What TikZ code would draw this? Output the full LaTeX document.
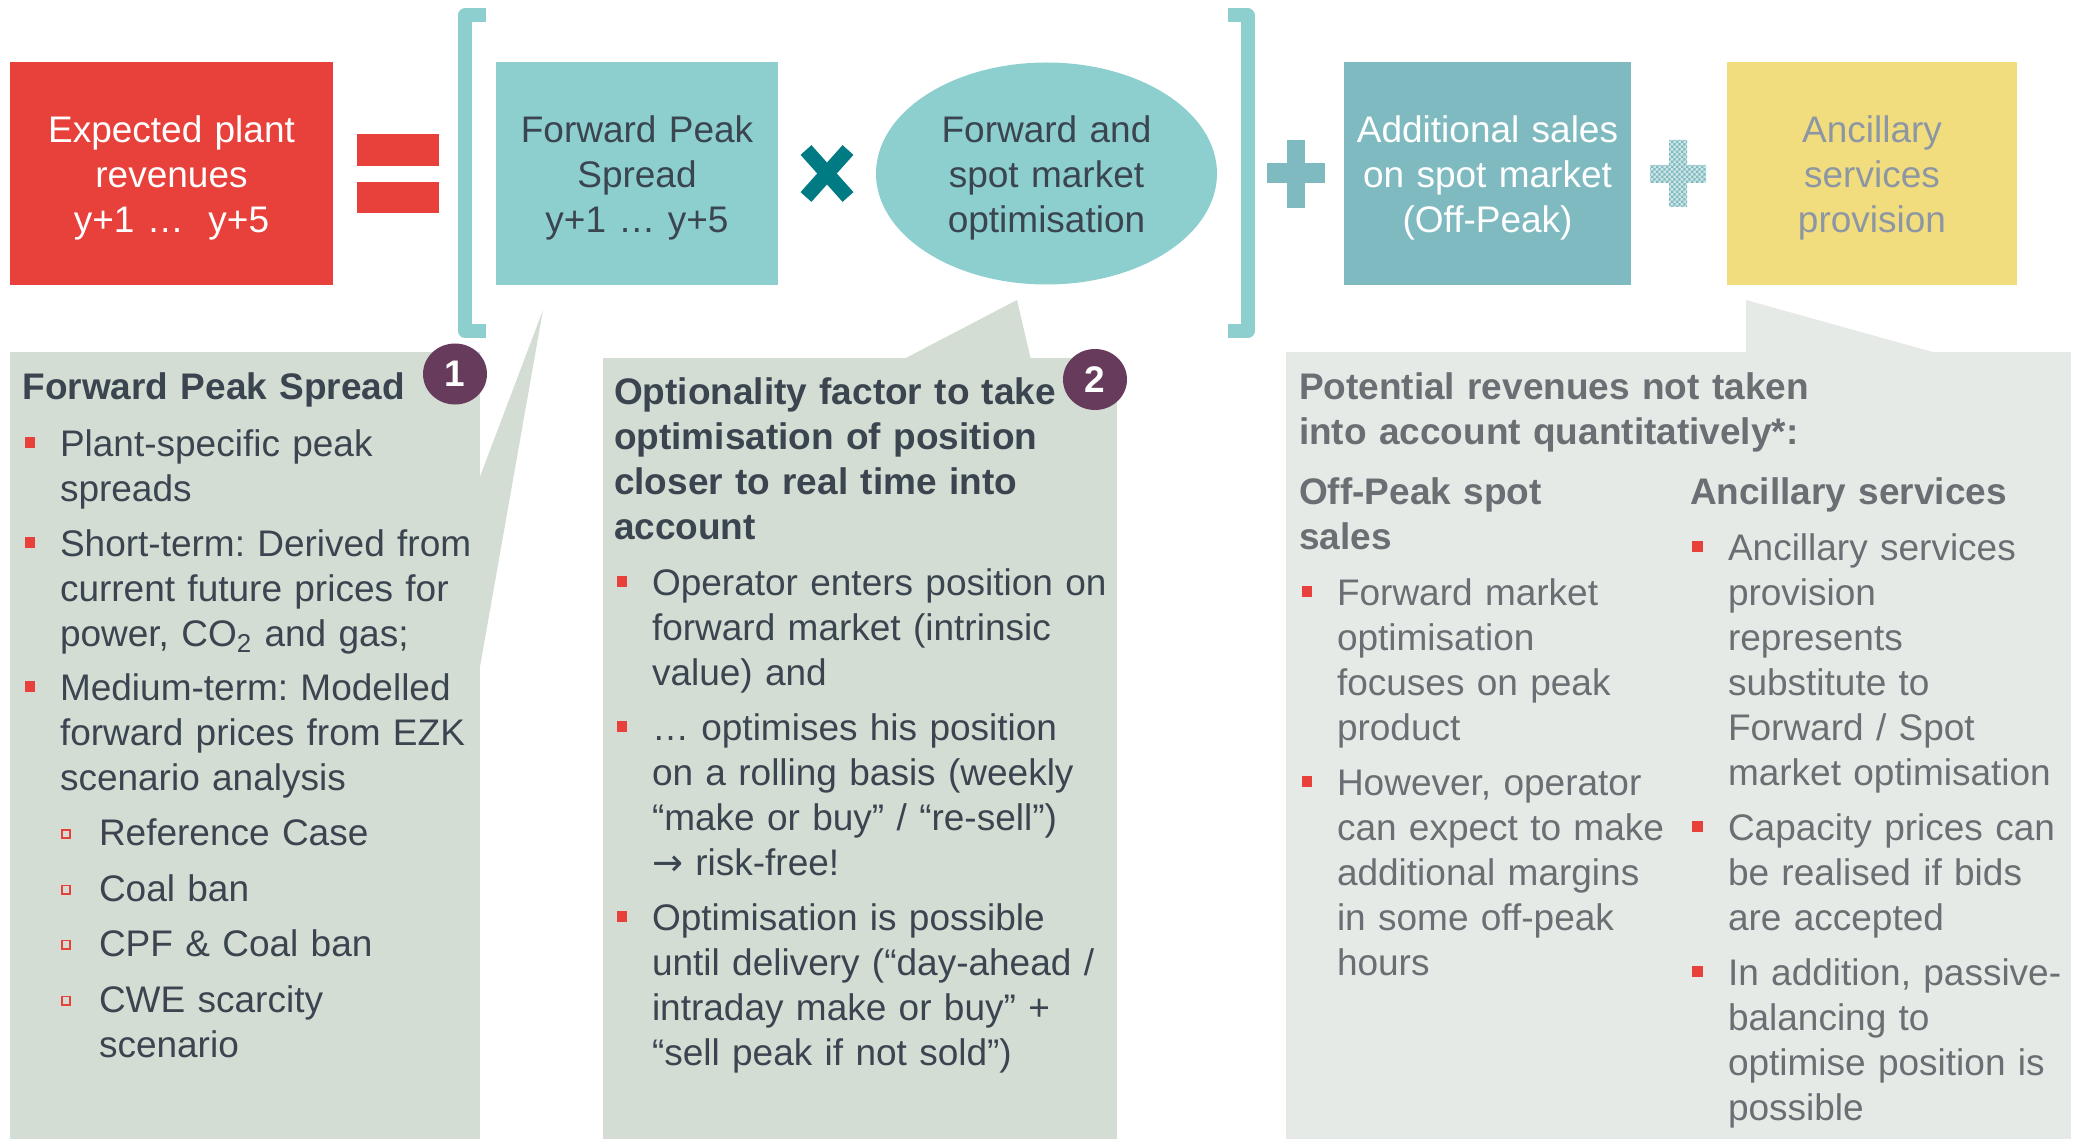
\documentclass[tikz,border=0pt]{standalone}
\usepackage{fontspec}
\setmainfont{Liberation Sans}
\newfontfamily\arrowfont{DejaVu Sans}
\usetikzlibrary{shapes.geometric,patterns}

\definecolor{revred}{HTML}{E8403A}
\definecolor{tealA}{HTML}{8DCFCF}
\definecolor{tealB}{HTML}{7FBAC0}
\definecolor{tealLt}{HTML}{CDE5E7}
\definecolor{tealDk}{HTML}{007B83}
\definecolor{sand}{HTML}{F2DD7E}
\definecolor{slate}{HTML}{3B4550}
\definecolor{greyT}{HTML}{6B6E72}
\definecolor{greyB}{HTML}{8D97A3}
\definecolor{sage}{HTML}{D3DDD4}
\definecolor{mist}{HTML}{E6EAE6}
\definecolor{plum}{HTML}{673B5B}

% fine checker used for the lighter plus sign
\pgfdeclarepatternformonly{finechecker}{\pgfpointorigin}{\pgfqpoint{2.4pt}{2.4pt}}{\pgfqpoint{2.4pt}{2.4pt}}{%
  \pgfpathrectangle{\pgfpointorigin}{\pgfqpoint{1.25pt}{1.25pt}}%
  \pgfpathrectangle{\pgfqpoint{1.2pt}{1.2pt}}{\pgfqpoint{1.25pt}{1.25pt}}%
  \pgfusepath{fill}}

\frenchspacing
\begin{document}
\begin{tikzpicture}[x=0.5pt,y=-0.5pt,
  every node/.style={inner sep=0pt, outer sep=0pt},
  lbl/.style={font=\fontsize{18.5pt}{22.5pt}\selectfont, anchor=base, align=center, text width=160pt},
  body/.style={font=\fontsize{18.5pt}{22.5pt}\selectfont, anchor=base west, align=left, text width=320pt},
  head/.style={body, font=\fontsize{18.5pt}{22.5pt}\selectfont\bfseries},
  bul/.style={rectangle, fill=revred, minimum size=5.4pt},
  subbul/.style={rectangle, draw=revred, line width=0.8pt, minimum size=4.2pt},
  bubble/.style={ellipse, fill=plum, text=white, font=\fontsize{18.5pt}{22.5pt}\selectfont\bfseries, minimum width=32pt, minimum height=30.5pt},
  tile/.style={rectangle, minimum height=111.5pt},
  bracket/.style={draw=tealA, line width=7pt, line join=round},
]
\useasboundingbox (0,0) rectangle (2078,1139);

% ---------- top row: the revenue equation ----------
\node[tile, fill=revred, minimum width=161.5pt] (rev) at (171.5,173.5) {};
\fill[revred] (357,134) rectangle (439,166);
\fill[revred] (357,182) rectangle (439,213);

\draw[bracket] (486,15.5) -- (465,15.5) -- (465,331) -- (486,331);
\node[tile, fill=tealA, minimum width=141pt] (fps) at (637,173.5) {};

% multiplication sign
\draw[tealDk, line width=7.3pt] (806,150) -- (848,197);
\draw[tealDk, line width=7.3pt] (848,150) -- (806,197);

\node[ellipse, fill=tealA, minimum width=170.5pt, minimum height=111pt] (opt) at (1046.5,173.5) {};
\draw[bracket] (1228,15.5) -- (1247.5,15.5) -- (1247.5,331) -- (1228,331);

% plus signs
\fill[tealB] (1287,140) rectangle (1305,208);
\fill[tealB] (1267,163) rectangle (1325,183);
\node[tile, fill=tealB, minimum width=143.5pt] (add) at (1487.5,173.5) {};

\fill[tealLt] (1669,140) rectangle (1687,207) (1650,165) rectangle (1706,183);
\fill[pattern=finechecker, pattern color=tealB] (1669,140) rectangle (1687,207) (1650,165) rectangle (1706,183);
\node[tile, fill=sand, minimum width=145pt] (anc) at (1872,173.5) {};

\node[lbl, text=white] (revT) at (171.5,143) {Expected plant\\revenues\\y+1 …\ \ y+5};
\node[lbl, text=slate] (fpsT) at (637,143) {Forward Peak\\Spread\\y+1 … y+5};
\node[lbl, text=slate] (optT) at (1046.5,143) {Forward and\\spot market\\optimisation};
\node[lbl, text=white] (addT) at (1487.5,143) {Additional sales\\on spot market\\(Off-Peak)};
\node[lbl, text=greyB] (ancT) at (1872,143) {Ancillary\\services\\provision};

% ---------- callout panels ----------
\coordinate (tip1) at (543,310);
\coordinate (tip2) at (1017,300);
\coordinate (tip3) at (1746,300);
\fill[sage] (10,352) rectangle (480,1139);
\fill[sage] (478,482) -- (tip1) -- (478,678) -- cycle;
\fill[sage] (603,358) rectangle (1117,1139);
\fill[sage] (902,360) -- (tip2) -- (1031,360) -- cycle;
\fill[mist] (1286,352) rectangle (2071,1139);
\fill[mist] (1746,354) -- (tip3) -- (1940,354) -- cycle;

\node[bubble] (n1) at (455,374) {1};
\node[bubble] (n2) at (1095,379.5) {2};

% panel 1: forward peak spread
\begin{scope}[every node/.append style={text=slate}]
\node[head] (c1h) at (22.5,400) {Forward Peak Spread};
\node[bul] (c1ab) at (30,442.5) {};
\node[body] (c1a) at (60,456) {Plant-specific peak\\spreads};
\node[bul] (c1bb) at (30,542.5) {};
\node[body] (c1b) at (60,556) {Short-term: Derived from\\current future prices for\\power, CO\textsubscript{2} and gas;};
\node[bul] (c1cb) at (30,686.5) {};
\node[body] (c1c) at (60,700) {Medium-term: Modelled\\forward prices from EZK\\scenario analysis};
\node[subbul] (s1b) at (66,834) {};
\node[body] (s1) at (99,845.5) {Reference Case};
\node[subbul] (s2b) at (66,889.5) {};
\node[body] (s2) at (99,901) {Coal ban};
\node[subbul] (s3b) at (66,944.5) {};
\node[body] (s3) at (99,956) {CPF \& Coal ban};
\node[subbul] (s4b) at (66,1000.5) {};
\node[body] (s4) at (99,1012) {CWE scarcity\\scenario};

% panel 2: optionality factor
\node[head] (c2h) at (614,404) {Optionality factor to take\\optimisation of position\\closer to real time into\\account};
\node[bul] (c2ab) at (622,581.5) {};
\node[body] (c2a) at (652,595) {Operator enters position on\\forward market (intrinsic\\value) and};
\node[bul] (c2bb) at (622,726.5) {};
\node[body] (c2b) at (652,740) {… optimises his position\\on a rolling basis (weekly\\“make or buy” / “re-sell”)\\{\arrowfont →} risk-free!};
\node[bul] (c2cb) at (622,916.5) {};
\node[body] (c2c) at (652,930) {Optimisation is possible\\until delivery (“day-ahead /\\intraday make or buy” +\\“sell peak if not sold”)};
\end{scope}

% panel 3: revenues not quantified
\begin{scope}[every node/.append style={text=greyT}]
\node[head] (c3h) at (1299,399) {Potential revenues not taken\\into account quantitatively*:};
\node[head] (c3l) at (1299,504) {Off-Peak spot\\sales};
\node[head] (c3r) at (1690,504) {Ancillary services};
\node[bul] (c3ab) at (1307,591.5) {};
\node[body] (c3a) at (1337,605) {Forward market\\optimisation\\focuses on peak\\product};
\node[bul] (c3bb) at (1307,781.5) {};
\node[body] (c3b) at (1337,795) {However, operator\\can expect to make\\additional margins\\in some off-peak\\hours};
\node[bul] (c3cb) at (1697.5,546.5) {};
\node[body] (c3c) at (1728,560) {Ancillary services\\provision\\represents\\substitute to\\Forward / Spot\\market optimisation};
\node[bul] (c3db) at (1697.5,826.5) {};
\node[body] (c3d) at (1728,840) {Capacity prices can\\be realised if bids\\are accepted};
\node[bul] (c3eb) at (1697.5,971.5) {};
\node[body] (c3e) at (1728,985) {In addition, passive-\\balancing to\\optimise position is\\possible};
\end{scope}
\end{tikzpicture}
\end{document}
